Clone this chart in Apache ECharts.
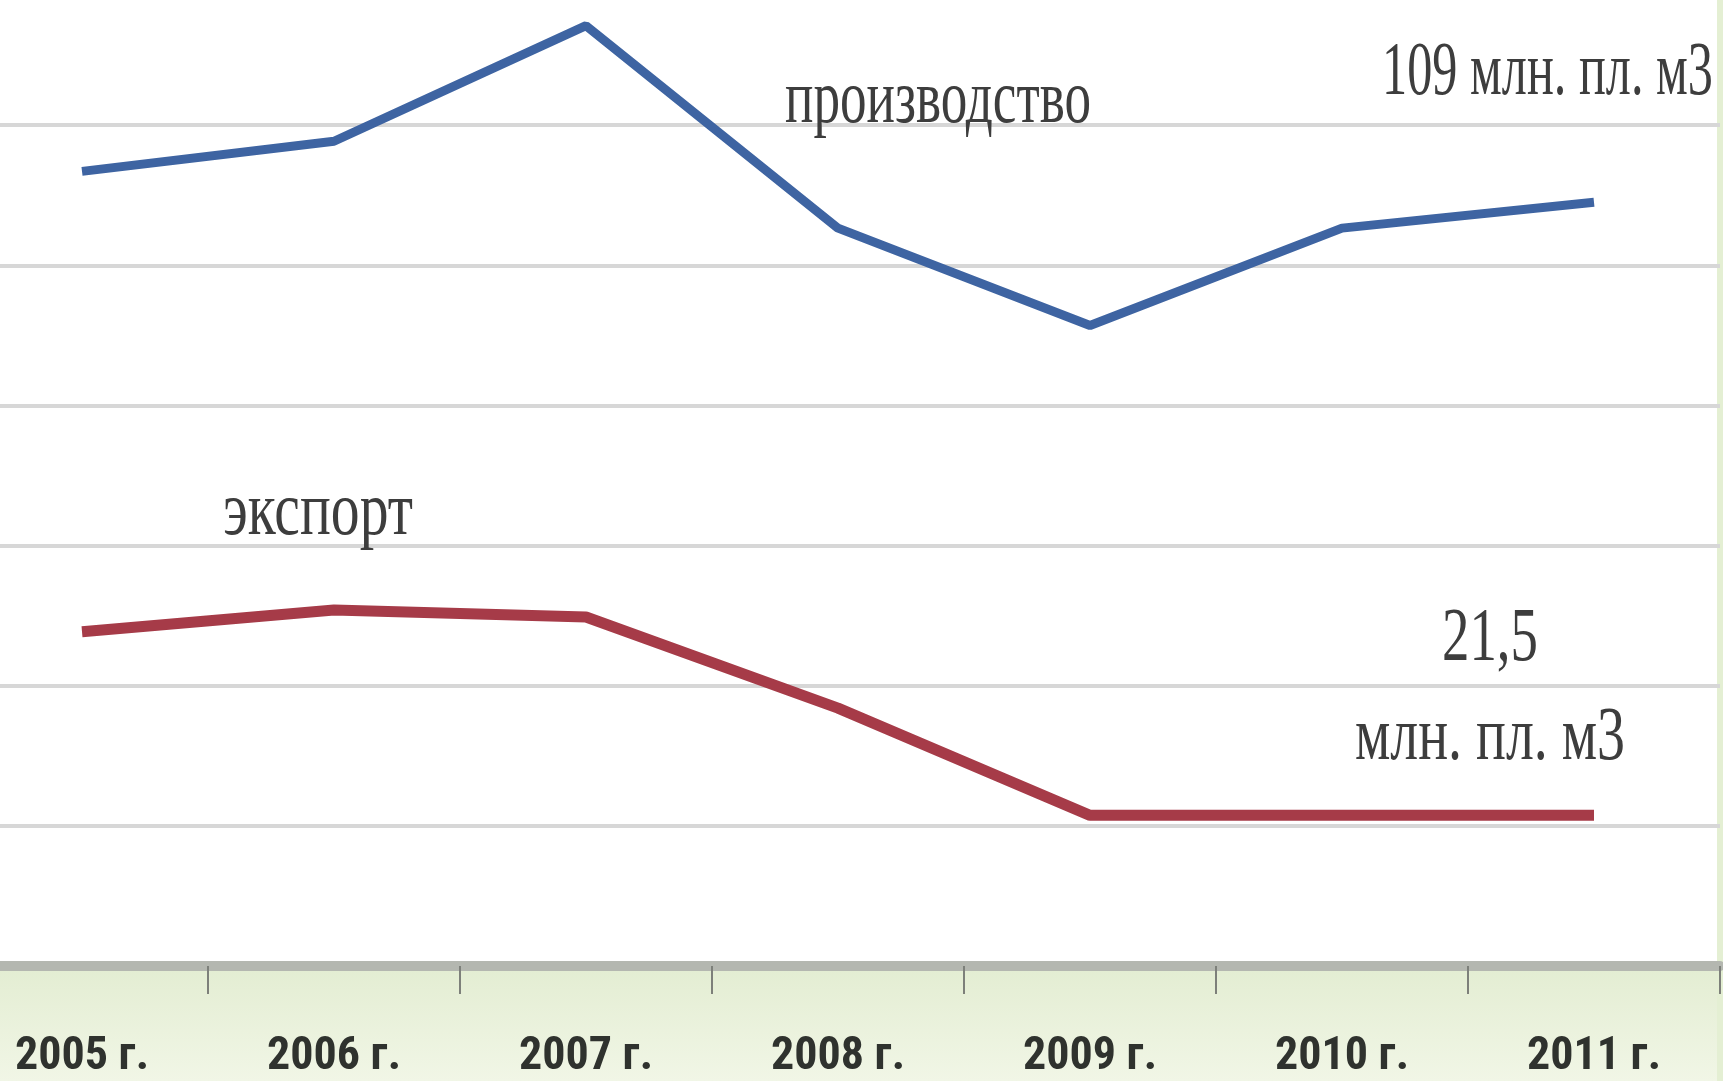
<!DOCTYPE html>
<html>
<head>
<meta charset="utf-8">
<script src="https://cdn.jsdelivr.net/npm/echarts@6/dist/echarts.min.js"></script>
<style>
html,body{margin:0;padding:0;background:#fff;}
#chart{width:1723px;height:1081px;}
</style>
</head>
<body>
<div id="chart"></div>
<script>
const categories = ['2005 г.', '2006 г.', '2007 г.', '2008 г.', '2009 г.', '2010 г.', '2011 г.'];
const production = [113.4, 117.7, 134.2, 105.3, 91.4, 105.3, 109];
const exportVals = [47.7, 50.8, 49.8, 36.8, 21.5, 21.5, 21.5];
const yTicks = { min: 0, max: 140, interval: 20 };
const labels = {
  production: 'производство',
  exportName: 'экспорт',
  prodEnd: '109 млн. пл. м3',
  expEndValue: '21,5',
  expEndUnit: 'млн. пл. м3'
};

const chart = echarts.init(document.getElementById('chart'));

const serifFont = '"Liberation Serif", "DejaVu Serif", serif';
const annFontSize = 76;
const measureCtx = document.createElement('canvas').getContext('2d');
measureCtx.font = annFontSize + 'px ' + serifFont;
function ann(text, left, baseline, width) {
  const w = measureCtx.measureText(text).width;
  return {
    type: 'text',
    x: left,
    y: baseline - annFontSize * 0.3,
    scaleX: width / w,
    z: 50,
    style: {
      text: text,
      fontSize: annFontSize,
      fontFamily: serifFont,
      fill: '#3d3d3d',
      align: 'left',
      verticalAlign: 'middle'
    }
  };
}

const option = {
  animation: false,
  backgroundColor: '#ffffff',
  grid: { left: -44, right: 3, top: -15, bottom: 115, containLabel: false, outerBoundsMode: 'none' },
  xAxis: {
    type: 'category',
    data: categories,
    boundaryGap: true,
    axisLine: { show: true, lineStyle: { color: '#b4b7b0', width: 10 } },
    axisTick: { show: true, alignWithLabel: false, length: 28, lineStyle: { color: '#7d807a', width: 2 } },
    axisLabel: {
      interval: 0,
      margin: 68,
      fontSize: 46,
      fontWeight: 'bold',
      fontFamily: '"Liberation Sans Narrow", "Roboto Condensed", "DejaVu Sans Condensed", sans-serif',
      color: '#2f322e'
    },
    splitLine: { show: false }
  },
  yAxis: {
    type: 'value',
    min: yTicks.min,
    max: yTicks.max,
    interval: yTicks.interval,
    axisLine: { show: false },
    axisTick: { show: false },
    axisLabel: { show: false },
    splitLine: { show: true, lineStyle: { color: '#d7d7d7', width: 4 } }
  },
  graphic: [
    {
      type: 'rect',
      z: -10,
      shape: { x: 0, y: 966, width: 1723, height: 115 },
      style: {
        fill: new echarts.graphic.LinearGradient(0, 0, 0, 1, [
          { offset: 0, color: '#e3edd2' },
          { offset: 1, color: '#f1f6e6' }
        ])
      }
    },
    {
      type: 'rect',
      z: -10,
      shape: { x: 1717, y: 0, width: 6, height: 1081 },
      style: { fill: '#e4efd3' }
    },
    ann(labels.production, 785, 125, 306),
    ann(labels.exportName, 223, 537, 190),
    ann(labels.prodEnd, 1382, 97, 331),
    ann(labels.expEndValue, 1442, 663, 96),
    ann(labels.expEndUnit, 1355, 762, 270)
  ],
  series: [
    {
      name: labels.production,
      type: 'line',
      data: production,
      symbol: 'none',
      lineStyle: { color: '#3e64a2', width: 9 },
      z: 5
    },
    {
      name: labels.exportName,
      type: 'line',
      data: exportVals,
      symbol: 'none',
      lineStyle: { color: '#a63b48', width: 11 },
      z: 5
    }
  ]
};
chart.setOption(option);
</script>
</body>
</html>
